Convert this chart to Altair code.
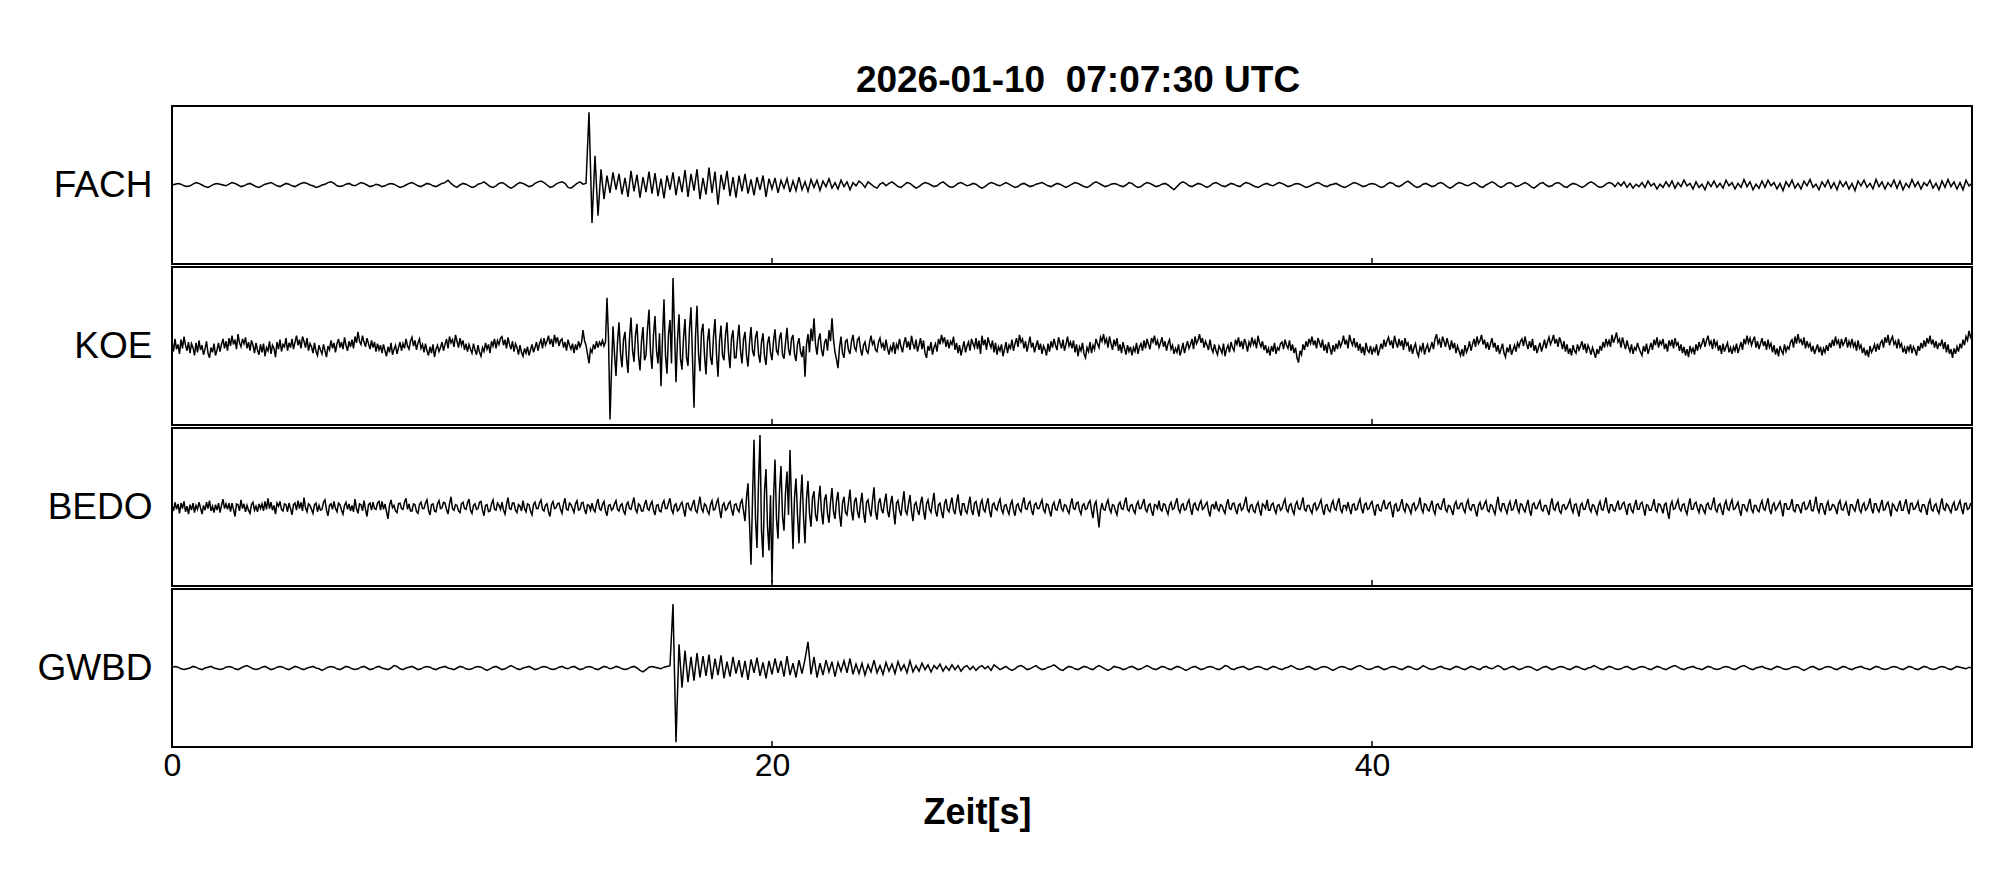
import altair as alt
import pandas as pd

# One inner list per second of trace (normalised amplitude, panel = -100..100).
# FACH and GWBD: 10 samples per second; KOE and BEDO: 20 samples per second.
FACH = [
    [0, 1, 2, 1, -1, -2, -1, 1, 3, 2],
    [0, -2, -3, -1, 1, 2, 1, 0, -1, 1],
    [3, 2, 0, -2, -1, 1, 2, 0, -2, -3],
    [-1, 1, 2, 3, 1, -1, -2, 0, 2, 1],
    [-1, -2, 0, 2, 3, 2, 0, -1, -3, -2],
    [0, 1, 3, 4, 2, -1, -2, -1, 1, 2],
    [0, -1, 1, 3, 2, 0, -2, -1, 1, 0],
    [-2, -1, 1, 2, 1, -1, -3, -2, 0, 2],
    [3, 1, -1, -2, 0, 2, 1, -1, -2, 0],
    [2, 3, 6, 2, -1, -3, 0, 2, 1, -1],
    [-3, -2, 1, 2, 4, 1, -2, -3, -1, 2],
    [3, 1, -2, -4, -2, 1, 3, 2, 0, -2],
    [-1, 2, 4, 5, 3, 0, -3, -2, 1, 3],
    [4, 2, -3, -4, -1, 2, 4, 1, 2, 92],
    [-48, 37, -39, 20, -18, 12, -10, 16, -6, 14],
    [-12, 9, -15, 18, -8, 13, -16, 10, -9, 17],
    [-11, 15, -14, 8, -17, 12, -6, 16, -13, 11],
    [-9, 19, -15, 14, -7, 20, -18, 9, -12, 22],
    [-10, 17, -25, 13, -6, 18, -14, 10, -16, 12],
    [-8, 14, -11, 7, -13, 10, -6, 12, -15, 8],
    [-5, 9, -10, 6, -4, 8, -9, 5, -7, 10],
    [-6, 4, -8, 7, -3, 6, -7, 5, -2, 8],
    [-4, 3, -5, 6, -2, 4, -6, 3, -1, 5],
    [2, -3, 4, 1, -2, -4, 1, 3, -1, 2],
    [4, 1, -2, -3, 0, 3, 2, -1, -4, -2],
    [1, 3, 2, 0, -2, -1, 2, 4, 1, -2],
    [-3, -1, 2, 3, 1, -1, 0, 2, 1, -2],
    [-4, -2, 1, 3, 2, 0, -1, 1, 3, 1],
    [-1, -3, -2, 1, 2, 0, -2, -1, 1, 2],
    [3, 1, -1, -2, 0, 2, 1, -1, -3, -1],
    [1, 3, 2, 0, -2, -3, -1, 2, 4, 2],
    [0, -2, -1, 1, 2, 1, -1, -2, 0, 3],
    [2, -1, -3, -2, 1, 3, 2, 0, -2, -1],
    [1, 2, 0, -3, -6, -2, 2, 4, 2, -1],
    [-2, 0, 2, 1, -1, -3, -1, 2, 3, 1],
    [-1, -2, 0, 2, 1, -1, -2, 1, 3, 2],
    [0, -2, -3, -1, 1, 2, 0, -1, 1, 3],
    [2, 0, -2, -1, 1, 2, 1, -1, -3, -2],
    [0, 2, 3, 1, -1, -2, 0, 1, 2, 0],
    [-2, -3, -1, 1, 3, 2, 0, -2, -1, 1],
    [2, 1, -1, -3, -2, 1, 3, 2, -1, -2],
    [0, 3, 5, 2, -1, -3, -2, 1, 2, 0],
    [-2, -1, 2, 3, 1, -2, -4, -2, 1, 3],
    [2, 0, -1, 1, 3, 1, -2, -3, 0, 2],
    [4, 2, -1, -3, -1, 2, 3, 1, -2, -1],
    [1, 3, 1, -2, -4, -1, 2, 3, 0, -2],
    [-1, 2, 3, 1, -2, -3, 0, 2, 1, -1],
    [-3, -1, 2, 4, 2, -1, -3, -2, 1, 3],
    [2, -2, 3, -1, 4, -3, 2, -4, 1, -2],
    [3, -3, 5, -1, 2, -5, 1, -3, 4, -2],
    [5, -4, 3, -2, 6, -1, 2, -5, 4, -3],
    [1, -6, 4, -2, 5, -3, 2, -4, 6, -1],
    [3, -5, 2, -3, 7, -2, 4, -6, 1, -4],
    [5, -3, 6, -1, 3, -5, 2, -7, 4, -2],
    [6, -4, 2, -5, 5, -1, 7, -3, 1, -6],
    [4, -2, 6, -4, 3, -6, 5, -2, 4, -5],
    [2, -7, 5, -1, 6, -3, 2, -5, 7, -2],
    [4, -5, 3, -2, 6, -4, 5, -6, 2, -3],
    [7, -2, 4, -5, 3, -1, 6, -4, 2, -6],
    [5, -3, 7, -2, 4, -5, 3, -6, 6, -1, 2],
]

KOE = [
    [6, -7, 9, -4, 2, -10, 8, -3, 12, 1, -6, 5, -9, 3, -2, -12, 4, -8, 7, -5],
    [1, -11, -4, 6, -9, -15, -2, -8, 3, -12, -5, 4, -7, 2, 9, -3, 6, -6, 10, 0],
    [13, 2, 8, -4, 15, 4, -1, 9, 3, 11, -3, 5, -6, 7, 1, -9, 4, -5, -11, 2],
    [-8, 3, -13, -2, -6, 6, -10, 1, -3, -14, 5, -4, 8, -7, 2, -1, 10, -6, 4, -2],
    [9, -4, 5, 13, 1, 8, -3, 12, 6, -2, 10, -6, 3, -1, -9, 4, -7, -12, 1, -5],
    [-10, 2, -6, -14, 0, -5, 7, -3, 4, -8, 3, 9, -2, 5, -4, 11, 1, -6, 6, -1],
    [8, -3, 12, 4, 18, 6, 2, 13, 5, -1, 10, 3, -4, 7, -2, 5, -7, 3, -5, 1],
    [-9, 2, -6, -13, -1, -8, 4, -11, -4, 1, -10, -2, 5, -6, 3, -3, 9, 0, -4, 6],
    [11, 0, 7, -5, 4, 9, -3, 2, -8, 3, -6, -12, -1, -9, 2, -14, -4, 1, -7, -2],
    [5, -6, 2, 9, -3, 12, 4, 8, -1, 14, 6, -2, 10, 1, 7, -5, 3, -7, 2, -4],
    [-9, 3, -5, -11, 1, -8, -13, -2, -7, 4, -4, 2, -9, 6, 0, 9, -3, 7, 2, 10],
    [12, 1, 8, -3, 11, 2, -4, 6, -7, 3, -2, -11, 1, -8, -13, -3, -9, -1, -12, -5],
    [2, -8, -2, 5, -6, 3, 8, -3, 10, 1, 6, 13, 2, 9, -1, 14, 5, 11, 0, 7],
    [9, -2, 5, -6, 8, 1, -4, 3, -9, 2, -5, 6, -1, 4, 20, 7, 1, -10, -22, -4],
    [-8, 2, -4, 6, -2, 5, 1, 7, 0, 5, 61, 10, -93, -30, 25, -10, -38, 5, 30, -9],
    [-27, 8, 18, -15, -34, 10, 36, -5, -20, 14, 28, -12, -31, 6, 24, -18, -12, 22, 46, -8],
    [-29, 14, 38, -6, -22, 16, -51, 10, 59, -12, -35, 15, 33, -22, 86, 20, -46, 8, 40, -16],
    [-30, 10, 34, -14, -25, 22, 49, -16, -78, 12, 51, -10, -32, 18, 28, -12, -36, 6, 22, -14],
    [-24, 12, 34, -10, -39, 6, 26, -12, -18, 14, 30, -8, -28, 10, 20, -15, -15, 8, 27, -6],
    [-22, 8, 18, -12, -26, 4, 24, -6, -13, 11, 19, -10, -21, 5, 16, -13, -24, 3, 12, -8],
    [-18, 6, 21, -6, -10, 10, 17, -11, -16, 4, 23, -4, -12, 9, 14, -10, -19, 2, 10, -7],
    [-14, 0, -39, 2, 15, -8, 22, 6, 35, 2, -11, 8, 16, -5, -13, 4, 9, -6, 20, 6],
    [35, 8, -8, -17, -28, -2, 12, -9, -15, 6, 8, -5, -10, 6, 14, -2, -6, 8, 11, -4],
    [-12, 1, 5, -6, -9, 4, 13, 2, 6, -5, -7, 5, 10, -1, 3, -6, 8, -3, -11, -1],
    [-6, 5, -10, 2, -3, 9, -1, -8, 4, 11, -2, 6, -5, 13, 3, -4, 8, -7, 1, 10],
    [-4, 7, -9, -15, 0, -6, 5, -11, -2, 3, -7, 9, 2, 14, 5, 11, -1, 8, -3, 6],
    [2, 12, -5, 4, -9, 1, -12, -3, 6, -8, 0, 5, -6, 9, 3, -2, 10, -4, 7, -10],
    [13, 1, 8, -5, 11, 3, -2, 7, -8, 4, -11, -1, -6, 2, -13, -4, 5, -9, 1, -3],
    [8, -6, 3, 10, -1, 14, 5, 9, -3, 6, -7, 2, 12, -2, 4, -8, 0, 7, -5, 3],
    [-10, 0, -4, -12, 3, -7, 6, -2, 9, 1, -5, 11, 4, -3, 8, -6, 2, 12, 0, 5],
    [-3, 7, -8, 2, -13, -1, -6, 4, -10, -15, -2, -7, 5, -9, 1, -4, 9, 3, -2, 11],
    [6, 15, 4, 9, -2, 12, 3, -5, 8, 0, 10, -6, 2, -9, 5, -3, -11, 1, -7, -1],
    [-12, -2, -7, 4, -10, -1, 3, -6, 7, -3, 9, 2, -4, 10, 5, 13, 1, 7, -2, 4],
    [11, -1, 6, -6, 3, 8, -4, 1, -10, -3, -8, 2, -12, -5, 4, -9, -1, 6, -3, 2],
    [9, -4, 12, 3, 7, 15, 4, 10, -2, 6, 1, -5, 8, -3, -8, 2, -6, -11, 0, -4],
    [-9, 3, -13, -4, 1, -8, 5, -2, -6, 8, 2, 11, -1, 6, -4, 9, 3, -7, 5, 0],
    [11, 2, 7, -3, 13, 4, -1, 6, -5, 1, -9, -3, -12, 0, -7, 4, -10, -2, -5, 3],
    [5, -4, 8, 1, -3, 7, -6, 2, -9, -2, -15, -21, -6, -11, 2, -5, 6, -1, 9, 3],
    [12, 1, 7, -3, 10, 4, -2, 8, -6, 2, -9, 5, -3, -11, 1, -7, 3, -4, 7, -1],
    [4, 13, 2, 8, -3, 14, 6, 1, 10, -2, 5, -6, 3, -9, -1, -12, 4, -5, -8, 0],
    [-11, -3, -7, 2, -12, -5, 3, -4, 8, -1, 6, 11, 1, 7, -3, 13, 4, -2, 9, 0],
    [7, -5, 10, 1, 4, -7, 2, -10, -2, 3, -8, -13, -1, -6, 4, -11, -3, 2, -8, -2],
    [5, -4, 9, 15, 3, 8, -2, 12, 6, -1, 10, 2, -5, 7, -3, 4, -9, 0, -6, -12],
    [-4, -13, 1, -8, -3, 6, -6, 2, 9, -1, 12, 3, 7, 14, 2, 8, -3, 5, -5, 3],
    [10, -2, 4, -7, 1, -10, -4, 3, -9, -14, -2, -8, 2, -11, -5, 1, -7, 4, -1, 6],
    [9, 0, 12, 3, -4, 6, -2, 9, -6, 1, -9, -2, 4, -7, 0, 8, -3, 5, 11, 2],
    [7, 14, 3, 9, -1, 11, 5, -4, 6, -7, 2, -10, -3, -12, 1, -6, -9, 2, -5, 0],
    [6, -5, 3, -9, 1, -4, -11, -2, -8, -15, -4, -10, 0, -6, 5, -2, 9, 1, 7, -1],
    [14, 4, 10, 17, 5, 9, -2, 11, 3, -4, 7, -1, -7, 2, -10, -2, -5, 4, -3, -8],
    [-12, 0, -7, 3, -10, -3, 4, -5, 8, 1, 11, -2, 6, 2, 9, -4, 3, -7, 7, 0],
    [8, -3, 10, 1, 4, -6, 2, -9, -1, -12, -4, -14, 0, -8, -3, -11, 2, -6, 5, -2],
    [3, 10, -1, 7, 13, 2, 6, -4, 9, 0, 5, -6, 1, -10, 3, -7, -1, 4, -8, -2],
    [-10, -1, -6, 3, -9, -2, 5, -5, 9, 2, 13, 4, 10, 1, 7, 12, -2, 6, -4, 3],
    [10, 0, 6, -5, 8, -2, 3, -8, 1, -11, -3, -13, 0, -6, -10, 2, -7, -1, -4, 5],
    [8, -2, 12, 3, 15, 5, 8, 1, 11, -3, 6, -1, 3, -7, 0, -10, -4, 2, -8, -1],
    [-12, -3, -8, 1, -6, 4, -2, 8, 0, 12, 3, 7, -3, 9, 1, 5, 11, -2, 6, 0],
    [9, -1, 4, -6, 7, -3, 1, -9, -2, -12, -5, -14, 0, -8, -4, 2, -7, 3, -5, 4],
    [7, -2, 11, 4, 14, 1, 8, 12, 2, 6, -3, 9, -1, 3, -8, -2, -10, 0, -6, 2],
    [-9, -1, -5, -12, 0, -6, 4, -3, 7, -1, 10, 3, 13, 2, 8, -2, 6, -4, 3, 1],
    [8, -4, 5, -8, 2, -10, -4, -15, -3, -10, -1, -7, 3, -3, 8, 1, 12, 7, 19, 11, 15],
]

BEDO = [
    [2, -5, 6, -3, 4, -8, 5, -2, 7, -6, 1, -9, 3, -4, 5, -7, 2, -3, 6, -1],
    [-9, 2, -4, 6, -2, 8, -5, 1, -7, 3, -4, 5, -7, 2, 10, -2, 4, -3, 5, -6],
    [5, -3, -12, 4, 3, -5, 9, -2, 4, -6, 2, -4, -8, 3, 6, -4, 1, -6, 4, -2],
    [4, -5, 7, -3, 11, -2, 6, -4, 2, -9, 5, 1, 7, -3, -5, 4, 3, -6, 5, -2],
    [-10, 3, 5, -4, 8, -2, 6, -5, 12, -1, -6, 4, 2, -3, -8, 3, 5, -6, 2, -4],
    [-3, 6, 9, -4, -11, 2, 4, -3, 7, -2, -6, 5, 3, -4, -9, 2, 6, -3, 4, -5],
    [2, -6, 10, -2, -8, 4, 3, -5, 8, -3, -12, 3, 5, -4, 6, -2, -3, 5, 7, -4],
    [7, -3, 4, -6, -15, 2, 9, -1, 2, -5, -7, 4, 5, -2, -3, 6, 11, -3, 4, -5],
    [-5, 4, 3, -6, -8, 3, 6, -2, -2, 5, 9, -4, -10, 3, 4, -5, -6, 4, 8, -2],
    [-1, 6, 5, -3, -9, 4, 13, -2, -4, 3, 2, -5, -7, 4, 6, -2, -3, 5, 10, -4],
    [-8, 2, 4, -3, -2, 6, 7, -4, -11, 2, 3, -6, -5, 4, 9, -3, -4, 5, 2, -3],
    [6, -4, -9, 3, 12, -2, -3, 5, 5, -4, -7, 3, 1, -5, 8, -2, -6, 4, 3, -5],
    [-10, 3, 6, -2, -2, 5, 9, -3, -5, 2, 4, -6, -12, 3, 7, -2, -1, 4, 5, -3],
    [-8, 4, 11, -3, -4, 5, 3, -2, -7, 4, 8, -4, -3, 5, 6, -3, -9, 3, 2, -4],
    [5, -3, -6, 4, 10, -2, -4, 3, 7, -5, -11, 2, 3, -4, -2, 4, 8, -3, -5, 2],
    [4, -5, -9, 3, 6, -2, -3, 5, 12, -3, -7, 4, 2, -5, -5, 3, 9, -2, -4, 3],
    [7, -4, -10, 2, 3, -5, -6, 4, 8, -2, -2, 5, 11, -3, -8, 2, 4, -5, -3, 3],
    [6, -3, -12, 4, 5, -2, -4, 3, 9, -4, -7, 3, 13, -2, -6, 4, 2, -5, -9, 3],
    [8, -4, -3, 5, 10, -3, -14, 2, 5, -4, -2, 4, 7, -3, -11, 3, 4, -3, -6, 5],
    [9, -5, -18, 12, 30, -20, -73, 10, 85, -15, -52, 30, 91, -30, -64, 20, 48, -25, -55, 15],
    [-96, 10, 60, -15, -40, 20, 52, -12, -30, 18, 45, -10, 72, 5, -53, 12, 36, -10, -46, 8],
    [41, -12, -46, 10, 33, -8, -25, 12, 20, -10, -18, 8, 27, -6, -22, 9, 16, -8, -20, 6],
    [24, -6, -15, 8, 19, -9, -25, 5, 13, -7, -10, 6, 22, -5, -17, 7, 12, -6, -14, 5],
    [18, -7, -20, 6, 9, -4, -12, 8, 25, -6, -16, 5, 11, -3, -8, 6, 17, -5, -13, 4],
    [14, -6, -22, 5, 8, -4, -11, 6, 20, -5, -9, 4, 15, -6, -18, 3, 6, -4, -10, 5],
    [13, -5, -16, 4, 9, -3, -7, 6, 18, -5, -12, 3, 5, -6, -14, 4, 10, -3, -6, 4],
    [12, -4, -9, 5, 16, -3, -11, 4, 4, -5, -8, 3, 13, -4, -10, 5, 7, -3, -12, 4],
    [9, -3, -6, 4, 11, -5, -13, 3, 5, -2, -4, 5, 10, -3, -8, 2, 3, -4, -9, 3],
    [8, -4, -11, 2, 4, -3, -6, 5, 12, -2, -3, 4, 7, -4, -10, 3, 5, -2, -2, 4],
    [9, -3, -7, 4, 3, -5, -12, 2, 6, -3, -4, 4, 10, -2, -5, 3, 2, -4, -8, 3],
    [11, -2, -3, 5, 6, -4, -9, 2, 4, -3, -2, 5, 8, -4, -14, 3, 7, -8, -26, -4],
    [5, -3, -4, 4, 9, -2, -7, 3, 2, -5, -10, 3, 6, -2, -3, 5, 12, -3, -5, 2],
    [3, -4, -8, 3, 7, -2, -2, 4, 10, -3, -6, 2, 4, -5, -11, 3, 2, -2, 8, -3],
    [-5, 4, 3, -4, -9, 2, 6, -3, -2, 5, 11, -3, -7, 2, 4, -4, -3, 5, 9, -2],
    [-10, 3, 5, -2, -4, 4, 8, -3, -1, 3, 6, -5, -12, 2, 3, -3, 7, -2, -5, 3],
    [2, -4, -8, 3, 10, -2, -3, 4, 5, -3, -9, 2, 4, -4, -2, 5, 13, -3, -6, 2],
    [3, -5, -7, 2, 6, -3, -11, 4, 2, -2, 9, -4, -4, 3, 5, -3, -8, 2, 3, -4],
    [-2, 5, 10, -3, -6, 2, 4, -4, -9, 3, 7, -2, -3, 4, 12, -3, -5, 2, 2, -4],
    [-8, 3, 5, -4, -1, 4, 9, -3, -10, 2, 3, -4, -6, 3, 8, -2, -4, 5, 11, -3],
    [-7, 2, 2, -3, 6, -2, -9, 3, 4, -4, -3, 5, 10, -2, -8, 3, 5, -3, -2, 4],
    [7, -3, -11, 2, 3, -4, -5, 3, 9, -2, -2, 4, 6, -3, -13, 2, 4, -5, -4, 3],
    [10, -2, -6, 4, 2, -3, -8, 3, 5, -4, -1, 3, 12, -2, -7, 4, 3, -3, -5, 2],
    [8, -4, -9, 3, 4, -2, -3, 5, 11, -3, -6, 2, 1, -4, -10, 3, 7, -2, -2, 4],
    [5, -3, -7, 4, 9, -2, -4, 3, 3, -5, -12, 2, 6, -3, -2, 4, 8, -4, -6, 3],
    [2, -4, -9, 3, 13, -2, -5, 4, 4, -3, -8, 2, 7, -4, -3, 3, 10, -2, -7, 4],
    [3, -3, -6, 2, 9, -4, -11, 3, 5, -2, -2, 4, 8, -3, -5, 2, 2, -4, -10, 3],
    [11, -2, -4, 3, 6, -5, -8, 2, 3, -3, -1, 4, 9, -2, -7, 3, 4, -4, -12, 2],
    [5, -3, -3, 4, 10, -2, -6, 3, 2, -4, -9, 2, 7, -3, -4, 4, 12, -2, -8, 3],
    [3, -4, -5, 2, 8, -3, -2, 4, 6, -2, -10, 3, 4, -4, -7, 2, 9, -3, -3, 4],
    [6, -2, -11, 3, 2, -4, -4, 2, 10, -3, -6, 4, 3, -2, -8, 3, 5, -6, -15, 2],
    [7, -3, -2, 4, 9, -2, -5, 3, 4, -4, -9, 2, 11, -3, -3, 4, 6, -2, -7, 3],
    [2, -4, -8, 3, 5, -2, -3, 4, 12, -3, -6, 2, 4, -4, -10, 3, 8, -2, -4, 4],
    [9, -3, -2, 2, 6, -4, -11, 3, 3, -2, -5, 4, 10, -3, -7, 2, 2, -4, -6, 3],
    [8, -2, -4, 4, 11, -3, -9, 2, 5, -4, -1, 3, 7, -2, -12, 4, 4, -3, -3, 2],
    [10, -4, -6, 3, 3, -2, -8, 4, 6, -3, -2, 2, 9, -4, -5, 3, 13, -2, -7, 4],
    [4, -3, -10, 2, 7, -4, -3, 3, 2, -2, -9, 4, 8, -3, -4, 2, 6, -4, -11, 3],
    [3, -2, -5, 4, 10, -3, -7, 2, 5, -4, -2, 3, 11, -2, -8, 4, 4, -3, -6, 2],
    [9, -4, -3, 3, 6, -2, -12, 4, 2, -3, -5, 2, 8, -4, -4, 3, 10, -2, -9, 4],
    [5, -3, -2, 2, 7, -4, -6, 3, 3, -2, -10, 4, 9, -3, -5, 2, 4, -4, -8, 3],
    [11, -2, -4, 4, 2, -3, -7, 2, 6, -4, -3, 3, 8, -2, -9, 4, 5, -3, -2, 4, 3],
]

GWBD = [
    [1, 2, 1, -1, -2, -1, 0, 2, 1, -1],
    [-2, 0, 1, 2, 0, -1, -2, -1, 1, 2],
    [1, -1, -2, 0, 2, 3, 1, -1, -2, -1],
    [1, 2, 0, -2, -1, 1, 2, 1, -1, -2],
    [0, 2, 1, -1, -2, 0, 1, 2, 0, -1],
    [-3, -1, 1, 2, 1, -1, -2, 0, 2, 1],
    [-1, -2, -1, 1, 2, 0, -2, -1, 1, 2],
    [0, -1, -2, 0, 3, 2, -1, -2, 0, 1],
    [2, 0, -2, -1, 1, 2, 1, -1, -2, 0],
    [1, 2, 0, -1, -2, 0, 2, 1, -1, -2],
    [-1, 1, 2, 1, -1, -3, -1, 1, 2, 0],
    [-2, -1, 1, 3, 1, -1, -2, 0, 1, 2],
    [0, -2, -1, 1, 2, 1, -1, -2, -1, 1],
    [2, 0, -1, 1, 2, 0, -2, -1, 1, 2],
    [1, -1, -2, 0, 2, 1, -1, 0, 2, 1],
    [-1, -2, -1, 1, 2, 0, -3, -5, -2, 1],
    [2, 1, 0, -1, 1, 2, 3, 81, -94, 30],
    [-25, 22, -18, 14, -16, 19, -12, 15, -10, 17],
    [-14, 12, -9, 16, -13, 8, -11, 14, -7, 10],
    [-12, 9, -15, 11, -6, 13, -10, 7, -13, 9],
    [-8, 12, -6, 9, -11, 15, -9, 6, -12, 10],
    [-7, 11, 33, -8, 14, -12, 6, -9, 10, -5],
    [8, -11, 7, -4, 9, -6, 12, -8, 5, -7],
    [6, -9, 4, -5, 10, -6, 3, -8, 7, -4],
    [5, -7, 8, -3, 4, -6, 9, -5, 3, -4],
    [6, -2, 4, -5, 3, -1, 5, -4, 2, -3],
    [4, -2, 3, -4, 1, 3, -2, 2, -3, 1],
    [3, -1, 2, -3, 4, 1, -2, 0, 2, -1],
    [-3, -1, 2, 3, 1, -2, -1, 1, 3, 0],
    [-2, -1, 1, 2, 4, 1, -2, -3, 0, 2],
    [1, -1, -2, 0, 2, 1, -1, -2, 1, 3],
    [1, -1, -3, -1, 2, 1, 0, -2, -1, 1],
    [2, 0, -2, -1, 1, 3, 1, -1, -2, 0],
    [2, 1, -1, -2, 0, 2, 1, -1, -3, -1],
    [1, 2, 0, -2, -1, 1, 2, 1, -1, -2],
    [0, 3, 2, -1, -2, 0, 1, 2, 0, -2],
    [-1, 1, 2, 1, -1, -2, 0, 2, 1, -1],
    [-2, 0, 1, 3, 1, -1, -2, -1, 1, 2],
    [0, -2, -1, 1, 2, 1, -1, -3, -1, 1],
    [2, 1, -1, -2, 0, 2, 3, 1, -1, -2],
    [-1, 1, 2, 0, -2, -1, 1, 2, 1, -1],
    [-2, 0, 2, 1, -1, -2, 0, 3, 1, -1],
    [-2, -1, 1, 2, 0, -1, -2, 0, 2, 1],
    [-1, -2, 0, 2, 1, -1, -2, 1, 2, 0],
    [-1, 1, 3, 1, -2, -1, 1, 2, 0, -2],
    [-1, 1, 2, 1, -1, -3, -1, 1, 2, 0],
    [-2, -1, 1, 2, 1, -1, -2, 0, 2, 1],
    [-1, -2, 0, 1, 3, 1, -1, -2, 0, 2],
    [1, -1, -2, -1, 1, 2, 0, -2, -1, 1],
    [2, 1, -1, -2, 0, 2, 1, -1, -2, 0],
    [2, 3, 1, -1, -2, 0, 1, 2, 0, -1],
    [-2, 0, 2, 1, -1, -2, -1, 1, 2, 1],
    [-1, -2, 0, 2, 3, 1, -1, -2, 0, 1],
    [2, 0, -1, -2, 0, 2, 1, -1, -2, -1],
    [1, 2, 1, -1, -3, -1, 1, 2, 0, -2],
    [-1, 1, 2, 1, -1, -2, 0, 2, 1, -1],
    [-2, 0, 1, 2, 0, -1, -2, 0, 2, 1],
    [-1, -2, -1, 1, 2, 1, -1, -2, 0, 2],
    [1, -1, -2, 0, 2, 1, -1, -2, -1, 1],
    [2, 1, -1, -2, 0, 2, 1, 0, -1, 1, 0],
]

STATIONS = ["FACH", "KOE", "BEDO", "GWBD"]
TRACES = [FACH, KOE, BEDO, GWBD]
RATES = [10, 20, 20, 10]  # samples per second
TICK_VALUES = [20, 40]
AXIS_LABEL_VALUES = [0, 20, 40]
TITLE = "2026-01-10\u00a0 07:07:30 UTC"
X_TITLE = "Zeit[s]"

FONT = "Liberation Sans"
W, H = 1800, 158


def trace_frame(rows, rate):
    recs = []
    for sec, row in enumerate(rows):
        for k, v in enumerate(row):
            recs.append({"t": sec + k / rate, "v": v})
    return pd.DataFrame(recs)


ticks_df = pd.DataFrame({"t": TICK_VALUES})
xscale = alt.Scale(domain=[0, 60], nice=False, zero=False)
yscale = alt.Scale(domain=[-100, 100], nice=False, zero=False)

panels = []
for i, (name, rows, rate) in enumerate(zip(STATIONS, TRACES, RATES)):
    last = i == len(STATIONS) - 1
    if last:
        xaxis = alt.Axis(
            values=AXIS_LABEL_VALUES, title=X_TITLE, ticks=False, tickSize=0,
            domain=False, grid=False, labelFontSize=32, labelPadding=3,
            labelFlush=False, labelColor="black", labelFont=FONT, titleFont=FONT,
            titleFontSize=36, titleFontWeight="bold", titleColor="black",
            titleX=805, titleY=65, titleAlign="center", titleBaseline="middle",
        )
    else:
        xaxis = None
    line = alt.Chart(trace_frame(rows, rate)).mark_line(
        color="black", strokeWidth=1.5, clip=True
    ).encode(
        x=alt.X("t:Q", scale=xscale, axis=xaxis),
        y=alt.Y("v:Q", scale=yscale, axis=alt.Axis(
            title=name, titleAngle=0, titleAlign="right", titleBaseline="middle",
            titleX=-20, titleY=H / 2, titleFontSize=37, titleFontWeight="normal",
            titleFont=FONT, titleColor="black",
            labels=False, ticks=False, domain=False, grid=False,
        )),
    )
    ticks = alt.Chart(ticks_df).mark_rule(color="black", strokeWidth=1.5).encode(
        x=alt.X("t:Q", scale=xscale),
        y=alt.value(H),
        y2=alt.value(H - 6),
    )
    layer = alt.layer(line, ticks).properties(width=W, height=H)
    if i == 0:
        layer = layer.properties(title=alt.TitleParams(
            TITLE, fontSize=37, fontWeight="bold", font=FONT, color="black",
            anchor="middle", baseline="alphabetic", offset=14, dx=6, dy=37,
        ))
    panels.append(layer)

chart = alt.vconcat(*panels, spacing=0).properties(
    padding={"left": 27, "top": 53, "right": 5, "bottom": 5}
).configure(
    font=FONT
).configure_view(
    stroke="black", strokeWidth=2
)

chart.save("out.html", embed_options={"renderer": "svg", "actions": False})
